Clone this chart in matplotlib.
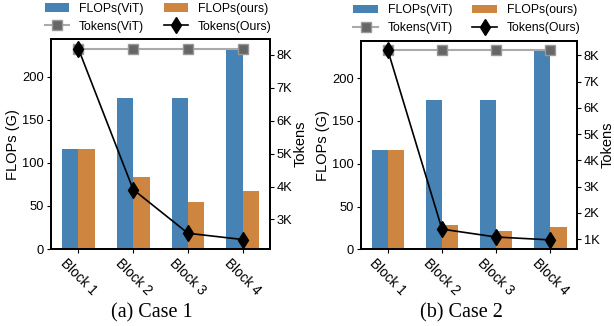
import matplotlib
matplotlib.use("Agg")
import matplotlib.pyplot as plt
from matplotlib.ticker import FuncFormatter
import numpy as np

plt.rcParams['font.family'] = ['Liberation Sans', 'DejaVu Sans']

blocks = ["Block 1", "Block 2", "Block 3", "Block 4"]
flops_vit = [116, 175, 175, 232]
flops_ours_case1 = [116, 84, 55, 67]
flops_ours_case2 = [116, 28.5, 21.5, 26]
tokens_vit = [8192, 8192, 8192, 8192]
tokens_ours_case1 = [8192, 3910, 2580, 2390]
tokens_ours_case2 = [8192, 1380, 1080, 970]
captions = ["(a) Case 1", "(b) Case 2"]

blue = "#4682b4"
orange = "#cd853f"

fig = plt.figure(figsize=(6.14, 3.26), dpi=100)
rects = [[0.083, 0.236, 0.357, 0.644], [0.5875, 0.235, 0.353, 0.640]]
cap_x = [0.247, 0.752]
data = [(flops_ours_case1, tokens_ours_case1), (flops_ours_case2, tokens_ours_case2)]

x = np.arange(len(blocks))
w = 0.3
for i, rect in enumerate(rects):
    ax = fig.add_axes(rect)
    fo, to = data[i]
    b1 = ax.bar(x - w/2, flops_vit, w, color=blue, label="FLOPs(ViT)")
    b2 = ax.bar(x + w/2, fo, w, color=orange, label="FLOPs(ours)")
    ax.set_xlim(-0.5, 3.5)
    ax.set_xticks(x)
    ax.set_xticklabels(blocks, rotation=-45, ha='center', fontsize=9.8)
    ax.set_ylabel("FLOPs (G)", fontsize=10.5, labelpad=1.5)
    ax.tick_params(axis='y', labelsize=9.3, length=3, pad=2)
    ax.tick_params(axis='x', length=3, pad=2)
    for s in ax.spines.values():
        s.set_linewidth(1.3)
    ax2 = ax.twinx()
    l1, = ax2.plot(x, tokens_vit, color="#aaaaaa", lw=1.5, marker='s', markersize=6.5,
                   markerfacecolor="#666666", markeredgecolor="#999999", markeredgewidth=1,
                   label="Tokens(ViT)")
    l2, = ax2.plot(x, to, color="black", lw=1.2, marker='d', markersize=8.5,
                   markerfacecolor="black", markeredgecolor="black", label="Tokens(Ours)")
    ax2.yaxis.set_major_formatter(FuncFormatter(lambda v, p: f"{int(round(v/1000))}K"))
    ax2.set_yticks(np.arange(1000, 9000, 1000))
    ax2.margins(y=0.05)
    ax2.autoscale(axis='y')
    ax2.set_ylabel("Tokens", fontsize=10.5, labelpad=1)
    ax2.tick_params(axis='y', labelsize=9.3, length=3, pad=1.5)
    for s in ax2.spines.values():
        s.set_linewidth(1.3)
    ax.legend([b1, l1, b2, l2], ["FLOPs(ViT)", "Tokens(ViT)", "FLOPs(ours)", "Tokens(Ours)"],
              ncol=2, loc='lower center', bbox_to_anchor=(0.49, 0.99), frameon=False,
              fontsize=8.8, handlelength=2.0, columnspacing=1.6, labelspacing=0.5,
              borderpad=0.2, handletextpad=0.8)
    fig.text(cap_x[i], 0.04, captions[i], ha='center', va='center', fontsize=14.5,
             family=['Liberation Serif', 'DejaVu Serif'])

fig.savefig("out.png", dpi=100)
